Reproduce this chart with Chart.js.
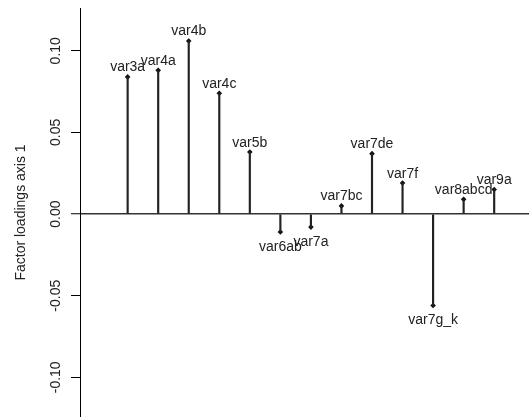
<!DOCTYPE html>
<html>
<head>
<meta charset="utf-8">
<script src="https://cdn.jsdelivr.net/npm/chart.js@4/dist/chart.umd.min.js"></script>
<style>
  html,body{margin:0;padding:0;background:#fff;overflow:hidden;}
  #wrap{width:529px;height:417px;}
</style>
</head>
<body>
<div id="wrap"><canvas id="loadings" width="529" height="417"></canvas></div>
<script>
// factor loadings on axis 1
const varNames=['var3a','var4a','var4b','var4c','var5b','var6ab','var7a','var7bc','var7de','var7f','var7g_k','var8abcd','var9a'];
const loadings=[0.084,0.088,0.106,0.074,0.038,-0.011,-0.008,0.005,0.037,0.019,-0.056,0.009,0.015];
const yTicks=[-0.10,-0.05,0.00,0.05,0.10];
const yTitle='Factor loadings axis 1';

const FONT='"Liberation Sans", Arial, sans-serif';
const INK='#222';

(function(){
  const pts=varNames.map((_,i)=>({x:i+1,y:loadings[i]}));

  // labels above positive points, below negative ones
  const pointLabels={
    id:'pointLabels',
    afterDatasetsDraw(chart){
      const ctx=chart.ctx;
      const meta=chart.getDatasetMeta(1);
      ctx.save();
      ctx.font='14px '+FONT;
      ctx.fillStyle=INK;
      ctx.textAlign='center';
      ctx.textBaseline='alphabetic';
      meta.data.forEach((el,i)=>{
        const y=loadings[i]>=0?el.y-5.5:el.y+18.5;
        ctx.fillText(varNames[i],el.x,y);
      });
      ctx.restore();
    }
  };

  // R style rotated tick labels on the y axis
  const yTickLabels={
    id:'yTickLabels',
    afterDraw(chart){
      const ctx=chart.ctx, s=chart.scales.y;
      ctx.save();
      ctx.font='14px '+FONT;
      ctx.fillStyle=INK;
      ctx.textAlign='center';
      ctx.textBaseline='alphabetic';
      s.ticks.forEach(t=>{
        const py=s.getPixelForValue(t.value);
        ctx.save();
        ctx.translate(60,py);
        ctx.rotate(-Math.PI/2);
        ctx.fillText(t.value.toFixed(2),0,0);
        ctx.restore();
      });
      ctx.restore();
    }
  };

  new Chart(document.getElementById('loadings'),{
    type:'bar',
    data:{datasets:[
      {type:'bar',data:pts,backgroundColor:INK,borderWidth:0,barThickness:1.5},
      {type:'scatter',data:pts,pointStyle:'rectRot',pointRadius:2.8,backgroundColor:'#111',borderWidth:0}
    ]},
    options:{
      responsive:false,
      devicePixelRatio:1,
      animation:false,
      layout:{autoPadding:false,padding:{top:8,right:0,bottom:0,left:0}},
      plugins:{legend:{display:false},tooltip:{enabled:false}},
      scales:{
        x:{type:'linear',display:false,min:-0.56,max:14.14,offset:false},
        y:{
          min:-0.1243,max:0.1262,
          afterBuildTicks:s=>{s.ticks=yTicks.map(v=>({value:v}));},
          afterFit:s=>{s.width=80;},
          ticks:{display:false},
          grid:{
            color:c=>c.tick&&c.tick.value===0?'#333':'rgba(0,0,0,0)',
            lineWidth:c=>c.tick&&c.tick.value===0?1.5:1,
            tickColor:'#000',tickWidth:1,tickLength:9,drawTicks:true
          },
          border:{display:true,color:'#000',width:1},
          title:{display:true,text:yTitle,color:INK,font:{family:FONT,size:14},padding:{top:13,bottom:0}}
        }
      }
    },
    plugins:[pointLabels,yTickLabels]
  });
})();
</script>
</body>
</html>
